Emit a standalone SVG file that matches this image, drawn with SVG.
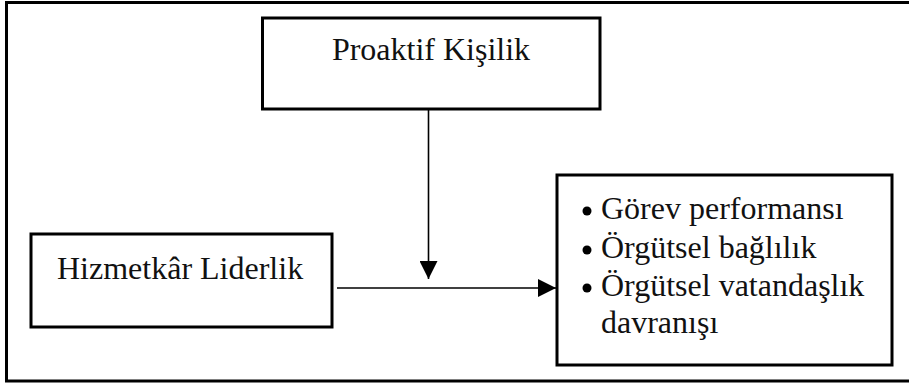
<svg xmlns="http://www.w3.org/2000/svg" width="909" height="386" viewBox="0 0 909 386">
<style>
.box{fill:#fff;stroke:#000;stroke-width:3}
.t{font-family:"Liberation Serif","Times New Roman",serif;font-size:32px;fill:#111}
.c{stroke:#000;stroke-width:1.6;fill:none}
</style>
<defs>
<marker id="ah" markerUnits="userSpaceOnUse" markerWidth="18" markerHeight="18" viewBox="0 0 16 16" refX="16" refY="8" orient="auto">
<path d="M0,0 L16,8 L0,16 Z" fill="#000"/>
</marker>
</defs>
<rect x="6.5" y="2.5" width="910" height="378.5" fill="#fff" stroke="#000" stroke-width="3"/>
<g id="proaktif">
<rect class="box" x="262.5" y="18" width="337.5" height="91"/>
<text class="t" x="431" y="60" text-anchor="middle">Proaktif Kişilik</text>
</g>
<g id="hizmetkar">
<rect class="box" x="31" y="234" width="301" height="93"/>
<text class="t" x="57" y="279">Hizmetkâr Liderlik</text>
</g>
<g id="sonuclar">
<rect class="box" x="557" y="175" width="335" height="190"/>
<circle cx="587" cy="211" r="4.5" fill="#000"/>
<circle cx="587" cy="250" r="4.5" fill="#000"/>
<circle cx="587" cy="288" r="4.5" fill="#000"/>
<text class="t" x="601" y="219">Görev performansı</text>
<text class="t" x="601" y="258">Örgütsel bağlılık</text>
<text class="t" x="601" y="296">Örgütsel vatandaşlık</text>
<text class="t" x="601" y="333">davranışı</text>
</g>
<g id="connectors">
<line class="c" x1="428.5" y1="109" x2="428.5" y2="279" marker-end="url(#ah)"/>
<line class="c" x1="337" y1="288" x2="556" y2="288" marker-end="url(#ah)"/>
</g>
</svg>
